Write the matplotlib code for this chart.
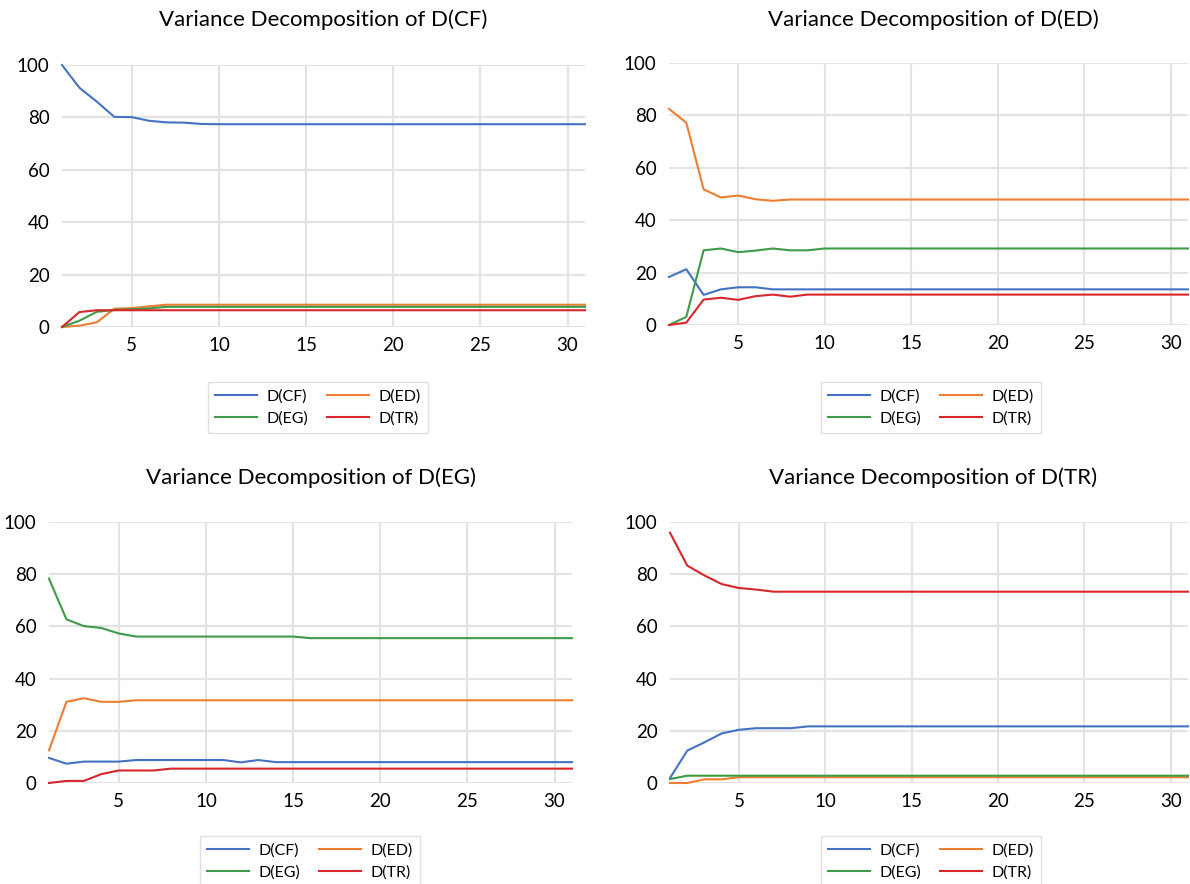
import numpy as np
import matplotlib
matplotlib.use("Agg")
import matplotlib.pyplot as plt

plt.rcParams["font.family"] = ["Lato", "DejaVu Sans"]

periods = np.arange(1, 32)
series_names = ["D(CF)", "D(ED)", "D(EG)", "D(TR)"]
colors = ["#4472C4", "#ED7D31", "#3F9A4A", "#D9262B"]


def pad(vals, n=31):
    # the decomposition settles after a few periods, so the last value repeats
    return list(vals) + [vals[-1]] * (n - len(vals))


# Variance decomposition of D(CF)
cf_cf = pad([100, 91.3, 86.0, 80.2, 80.1, 78.7, 78.1, 78.0, 77.5, 77.4])
cf_ed = pad([0, 0.5, 1.8, 7.0, 7.2, 7.9, 8.5])
cf_eg = pad([0, 2.4, 5.8, 6.5, 6.8, 7.1, 7.7])
cf_tr = pad([0, 5.7, 6.4, 6.4])

# Variance decomposition of D(ED)
ed_cf = pad([18.3, 21.3, 11.5, 13.6, 14.4, 14.4, 13.6])
ed_ed = pad([82.5, 77.2, 51.8, 48.7, 49.4, 48.0, 47.4, 47.9])
ed_eg = pad([0, 3.1, 28.5, 29.2, 27.8, 28.4, 29.2, 28.5, 28.5, 29.2])
ed_tr = pad([0, 0.9, 9.7, 10.4, 9.6, 11.0, 11.6, 10.8, 11.6])

# Variance decomposition of D(EG)
eg_cf = pad([9.6, 7.4, 8.2, 8.2, 8.2, 8.8, 8.8, 8.8, 8.8, 8.8, 8.8, 7.9, 8.8, 8.0])
eg_ed = pad([12.5, 31.1, 32.5, 31.1, 31.1, 31.7])
eg_eg = pad([78.3, 62.7, 60.1, 59.4, 57.3, 56.1, 56.1, 56.1, 56.1, 56.1,
             56.1, 56.1, 56.1, 56.1, 56.1, 55.5])
eg_tr = pad([0, 0.8, 0.8, 3.4, 4.8, 4.8, 4.8, 5.5])

# Variance decomposition of D(TR)
tr_cf = pad([1.9, 12.4, 15.6, 19.0, 20.4, 21.0, 21.0, 21.0, 21.7])
tr_ed = pad([0, 0, 1.4, 1.4, 2.2])
tr_eg = pad([1.5, 2.8])
tr_tr = pad([95.9, 83.3, 79.5, 76.2, 74.7, 74.1, 73.3])

panels = [
    ("Variance Decomposition of D(CF)", [cf_cf, cf_ed, cf_eg, cf_tr]),
    ("Variance Decomposition of D(ED)", [ed_cf, ed_ed, ed_eg, ed_tr]),
    ("Variance Decomposition of D(EG)", [eg_cf, eg_ed, eg_eg, eg_tr]),
    ("Variance Decomposition of D(TR)", [tr_cf, tr_ed, tr_eg, tr_tr]),
]

W, H = 1190, 884
fig = plt.figure(figsize=(W / 100, H / 100), dpi=100)
fig.patch.set_facecolor("white")

# pixel boxes: left, right, top, bottom of plot area; title x,y; legend x,top
boxes = [
    (62, 585, 65, 327, 323, 20, 318, 382),
    (669, 1188, 63, 325, 933, 20, 931, 382),
    (49, 572, 522, 783, 311, 478, 310, 836),
    (670, 1188, 522, 783, 933, 478, 931, 836),
]

for (title, data), (l, r, t, b, tx, ty, lx, ly) in zip(panels, boxes):
    ax = fig.add_axes([l / W, 1 - b / H, (r - l) / W, (b - t) / H])
    lines = []
    for name, vals, c in zip(series_names, data, colors):
        ln, = ax.plot(periods, vals, color=c, linewidth=1.5, label=name,
                      clip_on=False, zorder=3)
        lines.append(ln)
    ax.set_xlim(1, 31)
    ax.set_ylim(0, 100)
    ax.set_xticks([5, 10, 15, 20, 25, 30])
    ax.set_yticks([0, 20, 40, 60, 80, 100])
    ax.grid(True, color="#E3E3E3", linewidth=1.5)
    ax.set_axisbelow(True)
    for s in ax.spines.values():
        s.set_visible(False)
    ax.tick_params(length=0, labelsize=13.5, colors="black")
    ax.tick_params(axis="y", pad=9)
    ax.tick_params(axis="x", pad=7)
    fig.text(tx / W, 1 - ty / H, title, ha="center", va="center", fontsize=16)
    # row-major order: CF, ED on top row; EG, TR below
    order = [0, 2, 1, 3]
    leg = ax.legend([lines[i] for i in order], [series_names[i] for i in order],
                    loc="upper center", bbox_to_anchor=(lx / W, 1 - ly / H),
                    bbox_transform=fig.transFigure, ncol=2, fontsize=11.5,
                    frameon=True, fancybox=False, edgecolor="#D9D9D9",
                    handlelength=2.6, handletextpad=0.6, columnspacing=1.2,
                    borderpad=0.45, labelspacing=0.5, borderaxespad=0)
    leg.get_frame().set_linewidth(1.0)

fig.savefig("out.png", dpi=100)
